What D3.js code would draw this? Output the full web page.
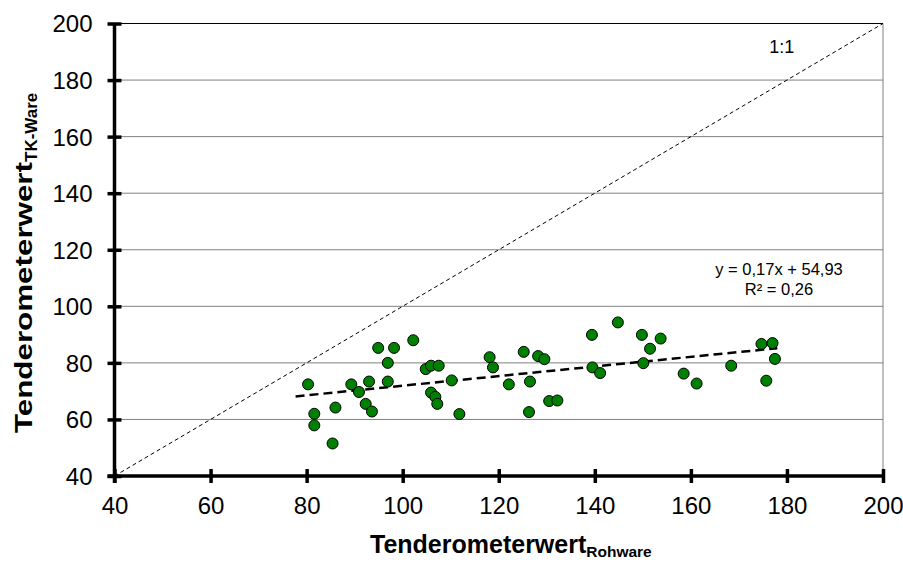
<!DOCTYPE html>
<html>
<head>
<meta charset="utf-8">
<script src="https://cdn.jsdelivr.net/npm/d3@7"></script>
<style>
  html, body { margin: 0; padding: 0; background: #fff; }
  svg { display: block; font-family: Arial, "Liberation Sans", sans-serif; }
</style>
</head>
<body>
<svg id="chart" width="903" height="562"></svg>
<script>
// Tenderometer readings: raw product (x) vs. frozen product (y)
const rohware = [80.3, 81.6, 81.6, 85.4, 86.0, 89.3, 90.9, 93.0, 92.3, 93.6,
  94.9, 98.2, 96.9, 96.9, 102.2, 104.8, 105.9, 107.5, 105.9, 106.8,
  107.2, 110.2, 111.8, 118.1, 118.8, 122.1, 125.2, 128.2, 129.5, 126.5,
  126.3, 130.5, 132.2, 139.4, 139.5, 141.1, 144.8, 149.8, 151.5, 153.7,
  150.1, 158.5, 161.2, 168.4, 174.7, 177.0, 177.5, 175.7];
const tkWare = [72.4, 62.0, 57.9, 51.5, 64.2, 72.4, 69.7, 73.4, 65.5, 62.8,
  85.3, 85.3, 80.0, 73.4, 88.0, 77.8, 79.0, 79.0, 69.5, 68.0,
  65.5, 73.8, 61.9, 82.0, 78.4, 72.4, 83.9, 82.4, 81.3, 73.4,
  62.6, 66.5, 66.7, 89.9, 78.4, 76.4, 94.3, 89.9, 85.0, 88.6,
  79.9, 76.2, 72.7, 79.0, 86.7, 87.0, 81.4, 73.7];

// Linear trend (as reported in the label) and the x-span it is drawn over
const slope = 0.17;
const intercept = 54.93;
const rSquared = 0.26;
const trendSpan = [77.7, 178];

const ticks = [40, 60, 80, 100, 120, 140, 160, 180, 200];
const domain = [40, 200];

const svg = d3.select("#chart");
const plotLeft = 114.5, plotRight = 883, plotTop = 23.5, plotBottom = 476;

const x = d3.scaleLinear().domain(domain).range([plotLeft, plotRight]);
const y = d3.scaleLinear().domain(domain).range([plotBottom, plotTop]);

// Horizontal gridlines
svg.append("g")
  .selectAll("line")
  .data(ticks.filter(t => t > 40 && t < 200))
  .join("line")
  .attr("x1", plotLeft).attr("x2", plotRight)
  .attr("y1", d => y(d)).attr("y2", d => y(d))
  .attr("stroke", "#808080").attr("stroke-width", 1);

// Frame: top black, right grey
svg.append("line")
  .attr("x1", plotLeft).attr("x2", plotRight).attr("y1", y(200)).attr("y2", y(200))
  .attr("stroke", "#000").attr("stroke-width", 1);
svg.append("line")
  .attr("x1", plotRight).attr("x2", plotRight).attr("y1", plotTop).attr("y2", plotBottom)
  .attr("stroke", "#808080").attr("stroke-width", 1);

// 1:1 reference line
svg.append("line")
  .attr("x1", x(40)).attr("y1", y(40))
  .attr("x2", x(200)).attr("y2", y(200))
  .attr("stroke", "#000").attr("stroke-width", 1)
  .attr("stroke-dasharray", "4,3");

svg.append("text")
  .attr("x", x(178.9)).attr("y", y(189.4))
  .attr("text-anchor", "middle")
  .attr("font-size", 18)
  .text("1:1");

// Axes
const xAxis = d3.axisBottom(x).tickValues(ticks).tickSizeInner(7).tickSizeOuter(0).tickPadding(0);
const yAxis = d3.axisLeft(y).tickValues(ticks).tickSizeInner(7).tickSizeOuter(0).tickPadding(0);

const gx = svg.append("g").attr("transform", `translate(0,${plotBottom})`).call(xAxis);
gx.select(".domain").remove();
gx.append("line").attr("x1", plotLeft - 7).attr("x2", plotRight).attr("stroke", "#000").attr("stroke-width", 3.5);
gx.selectAll(".tick line").attr("y1", -7).attr("y2", 7).attr("stroke", "#000").attr("stroke-width", 3.5);
gx.selectAll(".tick text")
  .attr("y", 38).attr("dy", 0)
  .attr("font-size", 24).attr("font-family", "Arial, 'Liberation Sans', sans-serif")
  .attr("fill", "#000");

const gy = svg.append("g").attr("transform", `translate(${plotLeft},0)`).call(yAxis);
gy.select(".domain").remove();
gy.append("line").attr("y1", plotTop).attr("y2", plotBottom + 7).attr("stroke", "#000").attr("stroke-width", 3.5);
gy.selectAll(".tick line").attr("x1", -7).attr("x2", 7).attr("stroke", "#000").attr("stroke-width", 3.5);
gy.selectAll(".tick text")
  .attr("x", -22).attr("dy", "0.35em")
  .attr("font-size", 24).attr("font-family", "Arial, 'Liberation Sans', sans-serif")
  .attr("fill", "#000");

// Trend line
const trend = trendSpan.map(v => [v, slope * v + intercept]);
svg.append("path")
  .datum(trend)
  .attr("d", d3.line().x(d => x(d[0])).y(d => y(d[1])))
  .attr("fill", "none")
  .attr("stroke", "#000").attr("stroke-width", 2.5)
  .attr("stroke-dasharray", "9,5");

// Scatter points
svg.append("g")
  .selectAll("circle")
  .data(rohware.map((v, i) => [v, tkWare[i]]))
  .join("circle")
  .attr("cx", d => x(d[0])).attr("cy", d => y(d[1]))
  .attr("r", 5.5)
  .attr("fill", "#008000")
  .attr("stroke", "#000").attr("stroke-width", 1);

// Regression label
const fmt = v => v.toFixed(2).replace(".", ",");
svg.append("text")
  .attr("x", 779).attr("y", 275)
  .attr("text-anchor", "middle").attr("font-size", 16.5)
  .text(`y = ${fmt(slope)}x + ${fmt(intercept)}`);
svg.append("text")
  .attr("x", 779).attr("y", 295)
  .attr("text-anchor", "middle").attr("font-size", 16.5)
  .text(`R² = ${fmt(rSquared)}`);

// Axis titles with subscripts
const xt = svg.append("text")
  .attr("x", 370).attr("y", 553)
  .attr("font-weight", "bold").attr("font-size", 25);
xt.append("tspan").text("Tenderometerwert");
xt.append("tspan").attr("dy", 4).attr("font-size", 15.5).text("Rohware");

const yt = svg.append("text")
  .attr("transform", "translate(32,433) rotate(-90)")
  .attr("font-weight", "bold").attr("font-size", 23);
yt.append("tspan").attr("textLength", 271).attr("lengthAdjust", "spacingAndGlyphs").text("Tenderometerwert");
yt.append("tspan").attr("dy", 5).attr("font-size", 17).text("TK-Ware");
</script>
</body>
</html>
